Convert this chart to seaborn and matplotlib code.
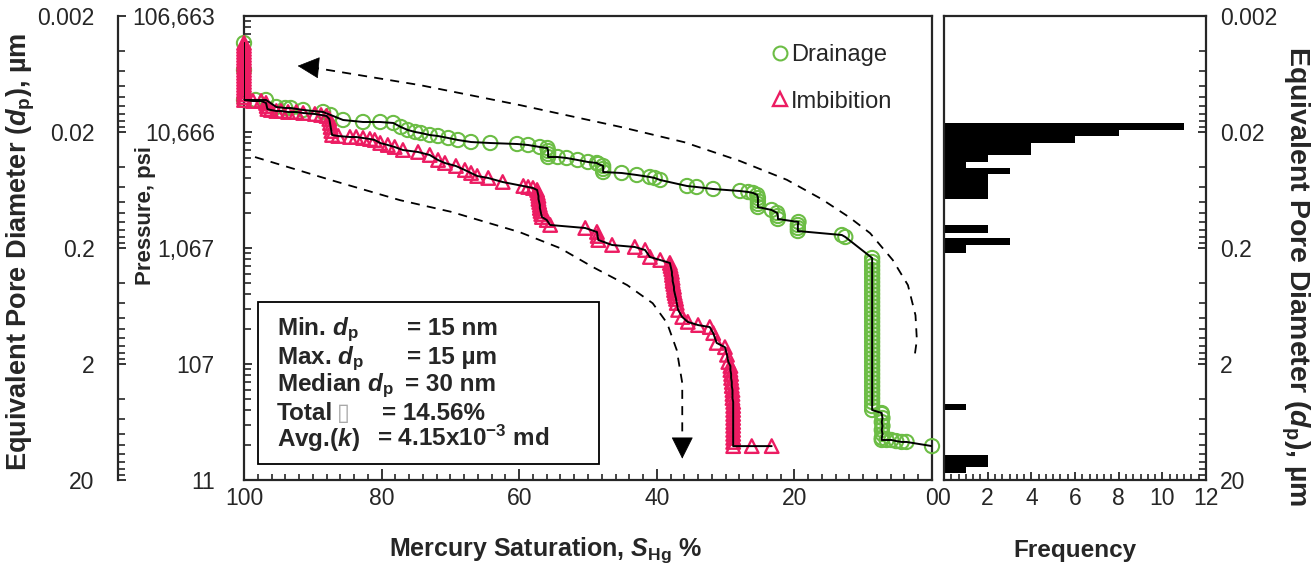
import numpy as np
import pandas as pd
import matplotlib
matplotlib.use("Agg")
import matplotlib.pyplot as plt
import seaborn as sns
from matplotlib.ticker import FixedLocator, FixedFormatter, NullFormatter, MultipleLocator
from matplotlib.lines import Line2D
from matplotlib.patches import Rectangle

# ---------------- data ----------------
drain_sat = [0.0, 3.7, 4.4, 5.2, 5.9, 6.6,
             7.3, 7.3, 7.2, 7.3, 7.2, 7.3, 7.2, 7.3, 7.3,
             8.7, 8.7, 8.7, 8.7, 8.7, 8.7, 8.7, 8.7, 8.7, 8.7, 8.7, 8.7, 8.7, 8.7, 8.7,
             8.7, 8.7, 8.7, 8.7, 8.7, 8.7, 8.7, 8.7, 8.7, 8.7, 8.7, 8.7, 8.7, 8.7, 8.7,
             8.7, 8.7, 8.7, 8.7, 8.7, 8.7, 8.7, 8.7, 8.7,
             12.6, 13.1, 19.5, 19.5, 19.5, 19.4, 22.4, 22.4, 22.5, 23.3,
             25.3, 25.3, 25.3, 25.3, 25.4, 26.0, 26.7, 27.9, 31.8, 34.2, 35.6,
             39.5, 40.3, 41.0, 42.9, 45.1, 47.8, 47.8, 47.8, 48.5, 48.7, 50.0, 51.5,
             53.1, 54.4, 55.8, 55.8, 55.8, 55.9, 57.0, 58.7, 60.3, 64.2, 67.0, 68.9,
             70.3, 71.8, 73.0, 74.3, 75.1, 76.2, 77.2, 78.3, 80.2, 82.7, 85.6, 87.4,
             88.5, 91.4, 93.2, 94.0, 95.3, 96.8, 98.3, 100.0, 100.0, 100.0]
drain_psi = [20.9, 22.7, 22.7, 23.1, 23.6, 23.6,
             23.6, 24.6, 26.6, 28.8, 31.2, 33.7, 36.5, 39.5, 40.3,
             42.8, 46.3, 50.2, 54.3, 58.8, 63.6, 68.9, 74.6, 80.8, 87.4, 94.7, 102.5, 111.0, 120.1, 130.1,
             140.8, 152.4, 165.1, 178.7, 193.5, 209.5, 226.8, 246, 265.8, 287.7, 312, 337.3, 365.1, 395.3, 428.0,
             463.3, 501.6, 543.0, 587.9, 636.5, 689.2, 746.0, 807.6, 874.3,
             1327, 1380, 1494, 1586, 1684, 1787, 1897, 2013, 2136, 2268,
             2406, 2555, 2711, 2877, 3054, 3179, 3241, 3306, 3440, 3579, 3651,
             4113, 4280, 4365, 4542, 4726, 4820, 5117, 5430, 5651, 5764, 5879, 6117,
             6365, 6492, 6492, 6891, 7314, 7762, 7918, 8239, 8404, 8572, 8743, 9099,
             9466, 9850, 10048, 10454, 10666, 11098, 11779, 12757, 13008, 13008, 13535, 14943,
             15864, 16511, 17173, 17173, 17518, 20130, 20130, 20130, 36510, 62400]

imb_sat = [100.0] * 20 + [
    98.7, 97.5, 96.8, 96.7, 96.6, 96.1, 95.3, 94.6, 93.6, 92.4, 91.4, 89.7, 88.8, 88.0,
    87.6, 87.5, 87.4, 87.3, 87.2, 86.3, 84.6, 83.7, 82.7, 81.7, 81.0, 80.2, 79.1, 78.1,
    76.9, 74.7, 73.0, 71.8, 70.8, 69.2, 67.9, 67.0, 66.1, 64.5, 62.4, 59.4, 58.7, 58.0,
    57.4, 57.3, 57.2, 57.2, 57.1, 57.0, 57.0, 56.9, 56.8, 56.7, 56.0, 55.5, 50.4, 48.7,
    48.6, 48.5, 46.5, 43.2, 41.7, 41.0, 39.5,
    38.1, 38.0, 37.9, 37.8, 37.8, 37.7, 37.7, 37.6, 37.5, 37.5, 37.4, 37.3, 37.2, 37.1,
    36.9, 36.3, 35.5, 34.0, 32.3, 31.8, 31.3, 30.1, 29.8, 29.6,
    29.3, 29.3, 29.2, 29.2, 29.1, 29.1, 29.0, 29.0, 29.0, 28.9, 28.9, 28.9, 28.9, 28.9,
    28.9, 28.9, 28.9, 28.9, 28.9, 28.9, 28.9, 26.2, 23.3]
imb_psi = [62400, 58790, 55400, 52190, 49170, 46340, 43650, 41130, 38750, 36510,
           34400, 32410, 30540, 28770, 27110, 25550, 24070, 22680, 21360, 20130] + [
    19730, 19730, 18970, 17870, 16840, 16510, 16180, 16180, 15860, 15860, 15550, 15250, 14950, 14650,
    13810, 12750, 11780, 10880, 10050, 9850, 9656, 9656, 9466, 9281, 9099, 8572, 8239, 7918,
    7460, 7170, 6756, 6117, 5764, 5430, 5016, 4726, 4453, 4280, 3953, 3651, 3579, 3509,
    3373, 3178, 2994, 2821, 2658, 2504, 2359, 2223, 2095, 1973, 1859, 1684, 1586, 1466,
    1354, 1250, 1132, 1088, 1025, 892, 840,
    792, 746, 703, 662, 624, 588, 554, 522, 492, 463, 436, 411, 388, 358,
    312, 271, 246, 231, 222, 197, 162, 149, 128, 111,
    102.5, 94.7, 87.4, 80.8, 74.6, 68.9, 63.6, 58.8, 54.3, 50.2, 46.3, 42.8, 39.5, 36.5,
    33.7, 31.2, 28.8, 26.6, 24.6, 22.7, 20.9, 20.9, 20.9]

# pore-diameter histogram (bin edges in micrometres, counts)
hist_d_lo = [0.0167, 0.0192, 0.0217, 0.0249, 0.0316, 0.0363, 0.0409, 0.0460, 0.1267, 0.1640, 0.1884, 4.42, 12.17, 15.45]
hist_d_hi = [0.0192, 0.0217, 0.0249, 0.0316, 0.0363, 0.0409, 0.0460, 0.0756, 0.1485, 0.1884, 0.2209, 4.99, 15.45, 17.41]
hist_count = [11, 8, 6, 4, 2, 1, 3, 2, 2, 3, 1, 1, 2, 1]

psi_ticks = [106663, 10666.3, 1066.63, 106.663, 10.6663]
psi_labels = ["106,663", "10,666", "1,067", "107", "11"]
d_ticks = [0.002, 0.02, 0.2, 2, 20]
d_labels = ["0.002", "0.02", "0.2", "2", "20"]
sat_ticks = [100, 80, 60, 40, 20, 0]
freq_ticks = [0, 2, 4, 6, 8, 10, 12]

GREEN = "#6cbd45"
PINK = "#ec1c62"

# ---------------- style ----------------
sns.set_style("ticks")
plt.rcParams["font.family"] = ["Liberation Sans", "DejaVu Sans"]
plt.rcParams["mathtext.fontset"] = "custom"
plt.rcParams["mathtext.rm"] = "Liberation Sans:bold"
plt.rcParams["mathtext.it"] = "Liberation Sans:bold:italic"
plt.rcParams["mathtext.bf"] = "Liberation Sans:bold"

TICK_FS = 16.5
BOX_FS = 17.5
W, H = 1315, 571
fig = plt.figure(figsize=(W / 100, H / 100), dpi=100)
fig.patch.set_facecolor("white")

def fx(px):
    return px / W

def fy(py):
    return 1 - py / H

ax = fig.add_axes([fx(244), fy(480), 688 / W, 464 / H])
axh = fig.add_axes([fx(944), fy(480), 262 / W, 464 / H])
axd = fig.add_axes([fx(118), fy(480), 0.00001, 464 / H])

drain = pd.DataFrame({"sat": drain_sat, "psi": drain_psi})
imb = pd.DataFrame({"sat": imb_sat, "psi": imb_psi})

ax.set_yscale("log")
sns.scatterplot(data=drain, x="sat", y="psi", ax=ax, marker="o", s=105,
                color=GREEN, facecolors="none", edgecolor=GREEN, linewidth=1.5,
                clip_on=False, zorder=3, legend=False)
sns.scatterplot(data=imb, x="sat", y="psi", ax=ax, marker="^", s=95,
                color=PINK, facecolors="none", edgecolor=PINK, linewidth=1.7,
                clip_on=False, zorder=4, legend=False)
sns.lineplot(data=drain, x="sat", y="psi", ax=ax, sort=False, estimator=None,
             color="black", linewidth=1.4, zorder=5)
sns.lineplot(data=imb, x="sat", y="psi", ax=ax, sort=False, estimator=None,
             color="black", linewidth=1.4, zorder=5)

ax.set_xlim(100, 0)
ax.set_ylim(10.6663, 106663)
ax.set_xlabel("")
ax.set_ylabel("")
for s in ax.spines.values():
    s.set_linewidth(1.6)
    s.set_visible(True)
ax.xaxis.set_major_locator(FixedLocator(sat_ticks))
ax.xaxis.set_minor_locator(MultipleLocator(2))
ax.yaxis.set_major_locator(FixedLocator(psi_ticks))
ax.yaxis.set_major_formatter(FixedFormatter(psi_labels))
ax.yaxis.set_minor_locator(FixedLocator([10.6663 * 10 ** k * m for k in range(4) for m in range(2, 10)]))
ax.yaxis.set_minor_formatter(NullFormatter())
ax.tick_params(axis="x", which="major", direction="in", length=8, width=1.3, pad=5, labelsize=TICK_FS, top=False)
ax.tick_params(axis="x", which="minor", direction="in", length=4, width=1.2, top=False)
ax.tick_params(axis="y", which="major", direction="in", length=6, width=1.3, pad=21, labelsize=TICK_FS, right=False)
ax.tick_params(axis="y", which="minor", direction="in", length=5, width=1.2, right=False)

# pore diameter axis on the far left
axd.set_yscale("log")
axd.set_ylim(20, 0.002)
axd.set_xticks([])
for k in ["top", "right", "bottom"]:
    axd.spines[k].set_visible(False)
axd.spines["left"].set_linewidth(1.6)
axd.yaxis.set_major_locator(FixedLocator(d_ticks))
axd.yaxis.set_major_formatter(FixedFormatter(d_labels))
axd.yaxis.set_minor_locator(FixedLocator([0.002 * 10 ** k * m for k in range(4) for m in range(2, 10)]))
axd.yaxis.set_minor_formatter(NullFormatter())
axd.tick_params(axis="y", which="major", direction="in", length=6, width=1.3, pad=17, labelsize=TICK_FS)
axd.tick_params(axis="y", which="minor", direction="in", length=5, width=1.2)

# histogram
axh.set_yscale("log")
axh.barh(y=hist_d_lo, width=hist_count,
         height=[h - l for l, h in zip(hist_d_lo, hist_d_hi)],
         align="edge", color="black", edgecolor="black", linewidth=0)
axh.set_ylim(20, 0.002)
axh.set_xlim(0, 12)
for s in axh.spines.values():
    s.set_linewidth(1.6)
axh.xaxis.set_major_locator(FixedLocator(freq_ticks))
axh.xaxis.set_minor_locator(MultipleLocator(2 / 6))
axh.yaxis.set_major_locator(FixedLocator(d_ticks))
axh.yaxis.set_major_formatter(FixedFormatter(d_labels))
axh.yaxis.set_minor_locator(FixedLocator([0.002 * 10 ** k * m for k in range(4) for m in range(2, 10)]))
axh.yaxis.set_minor_formatter(NullFormatter())
axh.yaxis.tick_right()
axh.tick_params(axis="y", which="major", direction="in", length=6, width=1.3, pad=10, labelsize=TICK_FS,
                left=False, right=True, labelleft=False, labelright=True)
axh.tick_params(axis="y", which="minor", direction="in", length=5, width=1.2, left=False, right=True)
axh.tick_params(axis="x", which="major", direction="in", length=6, width=1.3, pad=5, labelsize=TICK_FS, top=False)
axh.tick_params(axis="x", which="minor", direction="in", length=4, width=1.2, top=False)

# dashed guide arrows (axes fraction)
top_x = [0.096, 0.256, 0.401, 0.547, 0.640, 0.720, 0.789, 0.840, 0.880, 0.910, 0.943, 0.965, 0.976, 0.978, 0.974]
top_y = [0.890, 0.851, 0.808, 0.761, 0.728, 0.688, 0.647, 0.605, 0.566, 0.532, 0.474, 0.420, 0.355, 0.302, 0.259]
ax.plot(top_x, top_y, transform=ax.transAxes, color="black", lw=1.3, dashes=(5, 4), zorder=2)
ax.annotate("", xy=(0.074, 0.893), xytext=(0.097, 0.890), xycoords="axes fraction",
            arrowprops=dict(arrowstyle="-|>,head_length=0.9,head_width=0.45", color="black", lw=0.5, mutation_scale=16))
bot_x = [0.016, 0.125, 0.227, 0.301, 0.401, 0.459, 0.507, 0.557, 0.594, 0.615, 0.629, 0.637, 0.637, 0.637]
bot_y = [0.696, 0.647, 0.603, 0.578, 0.534, 0.500, 0.459, 0.420, 0.381, 0.338, 0.280, 0.209, 0.123, 0.080]
ax.plot(bot_x, bot_y, transform=ax.transAxes, color="black", lw=1.3, dashes=(5, 4), zorder=2)
ax.annotate("", xy=(0.637, 0.040), xytext=(0.637, 0.080), xycoords="axes fraction",
            arrowprops=dict(arrowstyle="-|>,head_length=0.9,head_width=0.45", color="black", lw=0.5, mutation_scale=16))

# legend
handles = [Line2D([], [], ls="none", marker="o", ms=10, mfc="none", mec=GREEN, mew=1.5),
           Line2D([], [], ls="none", marker="^", ms=10, mfc="none", mec=PINK, mew=1.7)]
ax.legend(handles, ["Drainage", "Imbibition"], loc="upper left", bbox_to_anchor=(0.766, 0.940),
          frameon=False, fontsize=17, handlelength=0.75, handletextpad=0.1, labelspacing=1.05,
          borderpad=0, borderaxespad=0)

# info box
ax.add_patch(Rectangle((0.020, 0.034), 0.496, 0.350, transform=ax.transAxes, fill=False,
                       edgecolor="black", lw=1.3, zorder=6))
box_rows = [
    (0.312, r"Min. $d_\mathrm{p}$", 0.237, "= 15 nm"),
    (0.250, r"Max. $d_\mathrm{p}$", 0.237, "= 15 µm"),
    (0.192, r"Median $d_\mathrm{p}$", 0.234, "= 30 nm"),
    (0.130, "Total", 0.201, "= 14.56%"),
    (0.073, r"Avg.($k$)", 0.193, r"= 4.15x10$^\mathrm{-3}$ md"),
]
for yy, lab, xv, val in box_rows:
    ax.text(0.048, yy, lab, transform=ax.transAxes, fontsize=BOX_FS, fontweight="bold", va="baseline", zorder=7)
    ax.text(xv, yy, val, transform=ax.transAxes, fontsize=BOX_FS, fontweight="bold", va="baseline", zorder=7)
ax.text(0.135, 0.130, "\u25af", transform=ax.transAxes, fontsize=17, color="#a8a8a8",
        family=["DejaVu Sans"], style="italic", va="baseline", zorder=7)

# axis titles
fig.text(fx(545), fy(550), r"Mercury Saturation, $S_\mathrm{Hg}$ %", ha="center", va="center",
         fontsize=18, fontweight="bold")
fig.text(fx(1075), fy(550), "Frequency", ha="center", va="center", fontsize=17.5, fontweight="bold")
fig.text(fx(146), fy(215), "Pressure, psi", ha="center", va="center", rotation=90,
         fontsize=16, fontweight="bold")
fig.text(fx(21), fy(252), r"Equivalent Pore Diameter ($d_\mathrm{p}$), µm", ha="center", va="center",
         rotation=90, fontsize=19.5, fontweight="bold")
fig.text(fx(1295), fy(276), r"Equivalent Pore Diameter ($d_\mathrm{p}$), µm", ha="center", va="center",
         rotation=270, fontsize=20.5, fontweight="bold")

fig.savefig("out.png", dpi=100, facecolor="white")
